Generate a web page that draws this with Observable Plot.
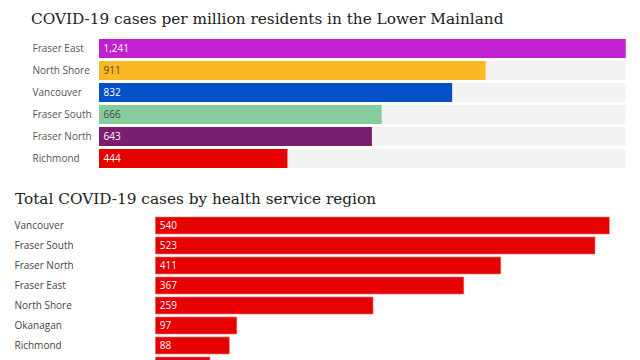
<!DOCTYPE html>
<html>
<head>
<meta charset="utf-8">
<script src="https://cdn.jsdelivr.net/npm/d3@7"></script>
<script src="https://cdn.jsdelivr.net/npm/@observablehq/plot@0.6"></script>
<style>
  html, body { margin: 0; padding: 0; background: #fff; overflow: hidden; width: 640px; height: 360px; }
  .title { font-family: "DejaVu Serif", serif; font-size: 15.3px; color: #222; white-space: nowrap; }
  #t1 { height: 34px; padding-left: 31px; box-sizing: border-box; padding-top: 6px; line-height: 26px; }
  #t2 { height: 36px; padding-left: 15px; box-sizing: border-box; padding-top: 12px; line-height: 26px; }
  svg { display: block; }
</style>
</head>
<body>
<div class="title" id="t1">COVID-19 cases per million residents in the Lower Mainland</div>
<div id="c1"></div>
<div class="title" id="t2">Total COVID-19 cases by health service region</div>
<div id="c2"></div>
<script>
// Chart 1 data
const regions1 = ["Fraser East", "North Shore", "Vancouver", "Fraser South", "Fraser North", "Richmond"];
const perMillion = [1241, 911, 832, 666, 643, 444];
const colors1 = ["#c020d0", "#f9b824", "#0450c8", "#86cc9c", "#7a1e70", "#e60000"];
const textColors1 = ["#ffffff", "#5a4a20", "#ffffff", "#3d4a40", "#ffffff", "#ffffff"];

// Chart 2 data (last row is cut off by the frame edge in the original)
const regions2 = ["Vancouver", "Fraser South", "Fraser North", "Fraser East", "North Shore", "Okanagan", "Richmond", "South Vancouver Island"];
const totalCases = [540, 523, 411, 367, 259, 97, 88, 65];
const visibleRows2 = 7;

const fmt = d3.format(",");
const labelFont = "'Open Sans', sans-serif";

const data1 = regions1.map((name, i) => ({name, value: perMillion[i], color: colors1[i], tcolor: textColors1[i], max: d3.max(perMillion)}));
const data2 = regions2.map((name, i) => ({name, value: totalCases[i], i}));
const data2Text = data2.filter(d => d.i < visibleRows2);

const chart1 = Plot.plot({
  width: 640,
  height: 140,
  marginLeft: 99,
  marginRight: 14.3,
  marginTop: 3.3,
  marginBottom: 5,
  style: {fontFamily: labelFont, fontSize: "10px", background: "transparent"},
  x: {domain: [0, d3.max(perMillion)], axis: null},
  y: {domain: regions1, padding: 0.15, paddingOuter: 0, axis: null},
  marks: [
    Plot.barX(data1, {y: "name", x1: 0, x2: "max", fill: "#f3f3f3"}),
    Plot.barX(data1, {y: "name", x1: 0, x2: "value", fill: "color"}),
    Plot.text(data1, {y: "name", text: "name", frameAnchor: "left", textAnchor: "start", dx: -67, fill: "#555"}),
    Plot.text(data1, {y: "name", x: 0, text: d => fmt(d.value), textAnchor: "start", dx: 4, fill: "tcolor"})
  ]
});
document.getElementById("c1").appendChild(chart1);

const chart2 = Plot.plot({
  width: 640,
  height: 175,
  marginLeft: 155.3,
  marginRight: 30.7,
  marginTop: 6,
  marginBottom: 0,
  style: {fontFamily: labelFont, fontSize: "10px", background: "transparent"},
  x: {domain: [0, d3.max(totalCases)], axis: null},
  y: {domain: regions2, padding: 0.153, paddingOuter: 0, axis: null, range: [6, 6 + 20.3 * (regions2.length - 0.153)]},
  marks: [
    Plot.barX(data2, {y: "name", x1: 0, x2: "value", fill: "#e60000", stroke: "#f47a7a", strokeWidth: 0.6}),
    Plot.text(data2Text, {y: "name", text: "name", frameAnchor: "left", textAnchor: "start", dx: -141.3, fill: "#444"}),
    Plot.text(data2Text, {y: "name", x: 0, text: d => fmt(d.value), textAnchor: "start", dx: 4, fill: "#fff"})
  ]
});
document.getElementById("c2").appendChild(chart2);
</script>
</body>
</html>
